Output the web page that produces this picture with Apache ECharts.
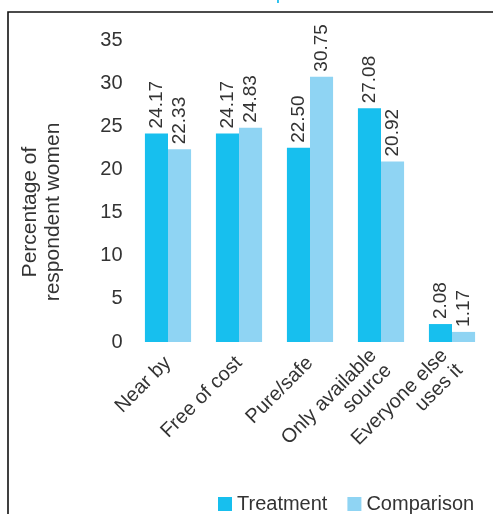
<!DOCTYPE html>
<html><head><meta charset="utf-8">
<script src="https://cdn.jsdelivr.net/npm/echarts@6/dist/echarts.min.js"></script>
<style>html,body{margin:0;padding:0;background:#fff}#c{width:493px;height:514px}</style>
</head><body><div id="c"></div>
<script>
const categories = ["Near by", "Free of cost", "Pure/safe", "Only available\nsource", "Everyone else\nuses it"];
const treatment = [24.17, 24.17, 22.50, 27.08, 2.08];
const comparison = [22.33, 24.83, 30.75, 20.92, 1.17];
const yTicks = [0, 5, 10, 15, 20, 25, 30, 35];
const FONT = "Liberation Sans";
const chart = echarts.init(document.getElementById('c'));
const lbl = {
  show: true, position: 'top', rotate: 90, align: 'left', verticalAlign: 'middle',
  distance: 5, fontSize: 19, color: '#333', fontFamily: FONT,
  formatter: p => p.value.toFixed(2)
};
chart.setOption({
  animation: false,
  textStyle: { fontFamily: FONT },
  graphic: [
    { type: 'rect', shape: { x: 8, y: 12, width: 600, height: 600 }, style: { fill: 'none', stroke: '#111', lineWidth: 1.6 } },
    { type: 'text', left: 103, top: -16.5, style: { text: 'Treatment and comparison women', fontSize: 20, fill: '#1bbdee', fontFamily: FONT } },
    { type: 'text', x: 42, y: 212, rotation: Math.PI / 2, style: { text: 'Percentage of\nrespondent women', fontSize: 21, fill: '#333', fontFamily: FONT, align: 'center', verticalAlign: 'middle', lineHeight: 23 } }
  ],
  grid: { left: 132.5, right: 5.5, top: 40, bottom: 172 },
  legend: {
    left: 213, top: 489, itemWidth: 14, itemHeight: 14, itemGap: 20,
    icon: 'rect',
    textStyle: { fontSize: 20, color: '#333', fontFamily: FONT },
    data: ['Treatment', 'Comparison']
  },
  xAxis: {
    type: 'category', data: categories,
    axisLine: { show: false }, axisTick: { show: false },
    axisLabel: { rotate: 45, fontSize: 20, color: '#333', margin: 18, interval: 0, align: 'right', lineHeight: 21, fontFamily: FONT }
  },
  yAxis: {
    type: 'value', min: 0, max: 35, interval: 5,
    axisLine: { show: false }, axisTick: { show: false }, splitLine: { show: false },
    axisLabel: { fontSize: 20, color: '#333', margin: 10, fontFamily: FONT,
      formatter: v => yTicks.includes(v) ? String(v) : '' }
  },
  series: [
    { name: 'Treatment', type: 'bar', data: treatment, barGap: '0%', barCategoryGap: '35%',
      itemStyle: { color: '#17bfee' }, label: lbl },
    { name: 'Comparison', type: 'bar', data: comparison,
      itemStyle: { color: '#8fd4f3' }, label: lbl }
  ]
});
</script></body></html>
